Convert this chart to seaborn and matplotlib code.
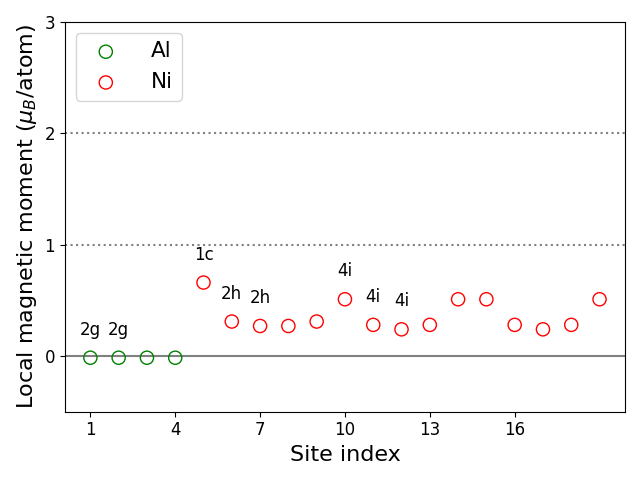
import matplotlib
matplotlib.use("Agg")
import matplotlib.pyplot as plt
import seaborn as sns
import pandas as pd

sites = list(range(1, 20))
elements = ["Al"] * 4 + ["Ni"] * 15
moments = [-0.015, -0.015, -0.015, -0.015,
           0.66, 0.31, 0.27, 0.27, 0.31, 0.51, 0.28, 0.24, 0.28,
           0.51, 0.51, 0.28, 0.24, 0.28, 0.51]
label_sites = [1, 2, 5, 6, 7, 10, 11, 12]
label_texts = ["2g", "2g", "1c", "2h", "2h", "4i", "4i", "4i"]
xticks = [1, 4, 7, 10, 13, 16]
yticks = [0, 1, 2, 3]

df = pd.DataFrame({"site": sites, "element": elements, "moment": moments})

fig, ax = plt.subplots(figsize=(6.4, 4.8), dpi=100)
palette = {"Al": "green", "Ni": "red"}
for el in ["Al", "Ni"]:
    sub = df[df.element == el]
    sns.scatterplot(data=sub, x="site", y="moment", ax=ax, s=90,
                    facecolors="none", edgecolor=palette[el], linewidth=1.0,
                    label=el)

ax.axhline(0, color="gray", lw=1.5, zorder=0)
ax.axhline(1, color="gray", lw=1.5, ls=":", zorder=0)
ax.axhline(2, color="gray", lw=1.5, ls=":", zorder=0)

for s, t in zip(label_sites, label_texts):
    ax.text(s, moments[s - 1] + 0.25, t, ha="center", va="center", fontsize=12)

ax.set_ylim(-0.5, 3)
ax.set_xlim(0.1, 19.9)
ax.set_xticks(xticks)
ax.set_yticks(yticks)
ax.tick_params(labelsize=12)
ax.set_xlabel("Site index", fontsize=16)
ax.set_ylabel(r"Local magnetic moment ($\mu_B$/atom)", fontsize=16)
ax.legend(fontsize=15.5, loc="upper left", handletextpad=1.1)
fig.tight_layout()
fig.savefig("out.png", dpi=100)
